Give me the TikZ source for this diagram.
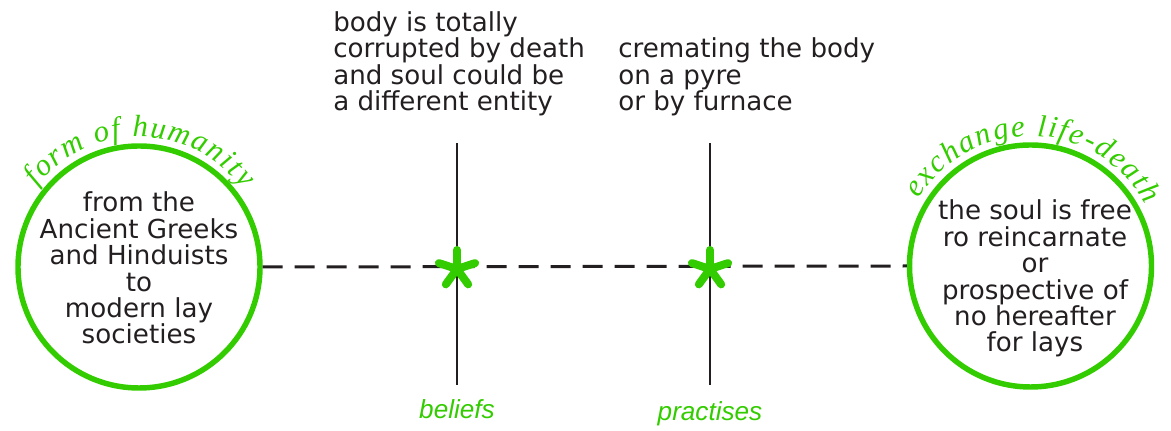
\documentclass[tikz,border=0pt]{standalone}
\usepackage{fontspec}
\setmainfont{DejaVu Sans}
\newfontfamily\capsans{Liberation Sans}
\newfontfamily\arcserif{Liberation Serif}
\usepackage{xcolor}
\usepackage{tikz}
\usetikzlibrary{calc,decorations.text}
\definecolor{leaf}{RGB}{51,204,0}
\definecolor{ink}{RGB}{35,31,32}
\newcommand{\bodyfont}{\fontsize{19.6}{19.8}\selectfont}
\newcommand{\arcfont}{\arcserif\itshape\fontsize{23}{25}\selectfont}

\begin{document}
\begin{tikzpicture}[x=0.75pt,y=0.75pt,
  bubble/.style={circle,draw=leaf,line width=4.1pt,minimum size=181.5pt,inner sep=0pt},
  bodytext/.style={ink,font=\bodyfont,inner sep=0pt},
  caption/.style={leaf,font=\capsans\itshape\bodyfont,inner sep=0pt,anchor=base}]
\useasboundingbox (0,0) rectangle (1171,431);
% circles
\node[bubble] (humanity) at (139,164) {};
\node[bubble] (exchange) at (1030.5,165) {};
\node[bodytext,align=center,anchor=base] (humanitytext) at (139,87)
  {from the\\Ancient Greeks\\and Hinduists\\to\\modern lay\\societies};
\node[bodytext,align=center,anchor=base] (exchangetext) at (1035,79)
  {the soul is free\\ro reincarnate\\or\\prospective of\\no hereafter\\for lays};
% curved titles
{\arcfont
\path[decorate,decoration={text along path,text={form of humanity},
  text color=leaf,text align={fit to path}}]
  ($(humanity.center)+(142:130)$) arc[start angle=142,end angle=37,radius=130];
\path[decorate,decoration={text along path,text={exchange life-death},
  text color=leaf,text align={fit to path}}]
  ($(exchange.center)+(149:130)$) arc[start angle=149,end angle=28,radius=130];
}
% axis
\draw[ink,line width=2.25pt,dash pattern=on 15pt off 9pt] (humanity.east) -- (exchange.west);
% top texts
\node[bodytext,align=left,anchor=base west] (bodytxt) at (333,320.3)
  {body is totally\\corrupted by death\\and soul could be\\a different entity};
\node[bodytext,align=left,anchor=base west] (pyretxt) at (618,320.3)
  {cremating the body\\on a pyre\\or by furnace};
% crossings
\foreach \x/\name/\yl in {457/beliefs/12, 710/practises/10}{
  \coordinate (\name top) at (\x,288);
  \coordinate (\name bot) at (\x,46);
  \coordinate (\name star) at (\x,162);
  \draw[ink,line width=1.9pt] (\name top) -- (\name bot);
  \foreach \a in {18,90,162,234,306}
    \draw[leaf,line width=6pt,line cap=round] (\name star) -- ++(\a:19);
  \node[caption] (\name) at (\x,\yl) {\name};
}
\end{tikzpicture}
\end{document}
